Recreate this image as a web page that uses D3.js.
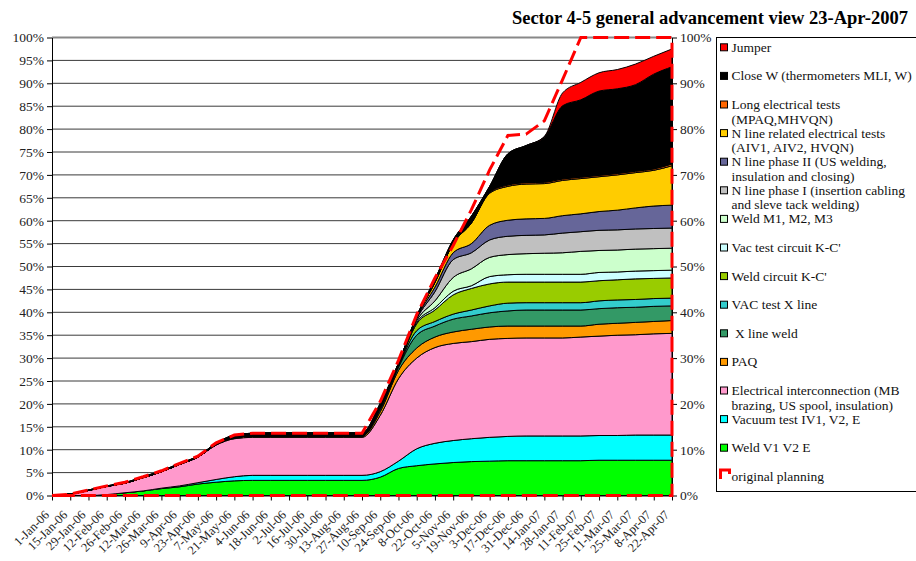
<!DOCTYPE html>
<html>
<head>
<meta charset="utf-8">
<script src="https://cdn.jsdelivr.net/npm/d3@7"></script>
<style>
body { margin: 0; background: #fff; }
text { font-family: "Liberation Serif", "Times New Roman", serif; }
</style>
</head>
<body>
<div class="chart"></div>
<script>
// x categories (every two weeks)
var dateLabels = ["1-Jan-06","15-Jan-06","29-Jan-06","12-Feb-06","26-Feb-06","12-Mar-06","26-Mar-06","9-Apr-06","23-Apr-06","7-May-06","21-May-06","4-Jun-06","18-Jun-06","2-Jul-06","16-Jul-06","30-Jul-06","13-Aug-06","27-Aug-06","10-Sep-06","24-Sep-06","8-Oct-06","22-Oct-06","5-Nov-06","19-Nov-06","3-Dec-06","17-Dec-06","31-Dec-06","14-Jan-07","28-Jan-07","11-Feb-07","25-Feb-07","11-Mar-07","25-Mar-07","8-Apr-07","22-Apr-07"];

// stacked series, % of total work (bottom to top)
var weldV1V2E         = [0,0,0,0.2,0.6,1.0,1.5,1.9,2.5,2.9,3.2,3.3,3.3,3.3,3.3,3.3,3.3,3.3,4.0,5.9,6.5,6.9,7.2,7.4,7.5,7.6,7.6,7.6,7.6,7.6,7.7,7.7,7.7,7.7,7.7];
var vacuumTest        = [0,0,0,0,0,0,0.1,0.2,0.3,0.6,0.9,1.1,1.1,1.1,1.1,1.1,1.1,1.1,1.2,1.6,3.7,4.5,4.8,5.0,5.2,5.3,5.4,5.4,5.4,5.4,5.4,5.4,5.5,5.5,5.5];
var elecInterconnect  = [0,0.3,1.1,1.8,2.1,2.9,3.6,4.7,5.6,7.5,8.3,8.3,8.3,8.3,8.3,8.3,8.3,8.3,12.3,18.0,19.8,20.9,21.2,21.2,21.4,21.4,21.4,21.4,21.4,21.6,21.7,21.9,21.9,22.1,22.2];
var paq               = [0,0,0,0,0,0,0,0,0,0.1,0.2,0.3,0.3,0.3,0.3,0.3,0.3,0.3,0.8,1.8,2.2,2.3,2.5,2.7,2.7,2.7,2.6,2.6,2.6,2.4,2.6,2.6,2.7,2.7,2.8];
var xLineWeld         = [0,0,0,0,0,0,0,0,0,0,0,0,0,0,0,0,0,0,0.5,0.7,2.8,2.4,2.8,2.9,3.1,3.3,3.5,3.5,3.5,3.5,3.4,3.4,3.3,3.3,3.2];
var vacTestXLine      = [0,0,0,0,0,0,0,0,0,0,0,0,0,0,0,0,0,0,0.2,0.2,1.0,1.0,1.1,1.3,1.5,1.7,1.6,1.6,1.6,1.6,1.7,1.7,1.7,1.7,1.7];
var weldCircuitKC     = [0,0,0,0,0,0,0,0,0,0,0,0,0,0,0,0,0,0,0.2,0.2,1.5,2.5,4.2,4.7,4.8,4.6,4.5,4.5,4.5,4.5,4.4,4.4,4.5,4.4,4.4];
var vacTestCircuitKC  = [0,0,0,0,0,0,0,0,0,0,0,0,0,0,0,0,0,0,0.1,0.1,0.3,0.5,0.8,0.6,1.6,1.6,1.7,1.7,1.7,1.7,1.8,1.7,1.7,1.7,1.7];
var weldM123          = [0,0,0,0,0,0,0,0,0,0,0,0,0,0,0,0,0,0,0.1,0.1,0.4,1.5,3.0,3.7,4.2,4.4,4.5,4.6,4.7,5.0,4.8,4.8,4.8,4.8,4.8];
var nLinePhase1       = [0,0,0,0,0,0,0,0,0,0,0,0,0,0,0,0,0,0,0.1,0.1,0.4,2.0,3.9,3.5,3.8,4.0,4.0,4.0,4.3,4.3,4.4,4.4,4.4,4.4,4.4];
var nLinePhase2       = [0,0,0,0,0,0,0,0,0,0,0,0,0,0,0,0,0,0,0.1,0.05,0.2,1.0,1.5,2.0,3.2,3.5,3.6,3.6,3.8,3.9,4.1,4.3,4.6,4.9,5.0];
var nLineElecTests    = [0,0,0,0,0,0,0,0,0,0,0,0,0,0,0,0,0,0,0.1,0.05,0.2,1.0,2.0,4.5,7.0,7.4,7.6,7.6,7.7,7.7,7.6,7.7,7.7,7.8,8.6];
var longElecTests     = [0,0,0,0,0,0,0,0,0,0,0,0,0,0,0,0,0,0,0,0,0,0,0,0,0.2,0.3,0.3,0.3,0.3,0.3,0.3,0.3,0.3,0.3,0.4];
var closeW            = [0,0,0.1,0.1,0.1,0.2,0.2,0.2,0.2,0.3,0.6,0.6,0.7,0.7,0.7,0.7,0.7,0.7,0.4,0.1,0.2,0.7,0.8,1.5,1.3,6.8,8.1,9.9,16.0,16.9,18.4,18.5,18.9,20.7,21.2];
var jumper            = [0,0,0,0,0,0,0,0,0,0,0,0,0,0,0,0,0,0,0,0,0,0,0,0,0,0,0,0.1,2.8,3.8,4.0,4.2,4.5,3.9,3.9];

// original planning (cumulative %)
var planning = [0,0.3,1.2,2.1,2.9,4.1,5.4,7.0,8.6,11.5,13.2,13.6,13.6,13.6,13.6,13.6,13.6,13.6,20.5,29.5,39.5,47.5,54.6,62.4,71.1,78.6,78.9,81.8,90.8,100,100,100,100,100,100];

var seriesNames = ["Weld V1 V2 E","Vacuum test IV1, V2, E","Electrical interconnection","PAQ","X line weld","VAC test X line","Weld circuit K-C'","Vac test circuit K-C'","Weld M1, M2, M3","N line phase I","N line phase II","N line related electrical tests","Long electrical tests","Close W","Jumper"];
var seriesColors = ["#00ff00","#00ffff","#ff99cc","#ff9900","#339966","#33cccc","#99cc00","#ccffff","#ccffcc","#c0c0c0","#666699","#ffcc00","#ff6600","#000000","#ff0000"];
var seriesValues = [weldV1V2E, vacuumTest, elecInterconnect, paq, xLineWeld, vacTestXLine, weldCircuitKC, vacTestCircuitKC, weldM123, nLinePhase1, nLinePhase2, nLineElecTests, longElecTests, closeW, jumper];

// legend, top to bottom
var legendLines = [
  ["Jumper"],
  ["Close W (thermometers MLI, W)"],
  ["Long electrical tests", "(MPAQ,MHVQN)"],
  ["N line related electrical tests", "(AIV1, AIV2, HVQN)"],
  ["N line phase II (US welding,", "insulation and closing)"],
  ["N line phase I (insertion cabling", "and sleve tack welding)"],
  ["Weld M1, M2, M3"],
  ["Vac test circuit K-C'"],
  ["Weld circuit K-C'"],
  ["VAC test X line"],
  ["\u00a0X line weld"],
  ["PAQ"],
  ["Electrical interconnection (MB", "brazing, US spool, insulation)"],
  ["Vacuum test IV1, V2, E"],
  ["Weld V1 V2 E"],
  ["original planning"]
];

var leftTicks = [0,5,10,15,20,25,30,35,40,45,50,55,60,65,70,75,80,85,90,95,100];
var rightTicks = [0,10,20,30,40,50,60,70,80,90,100];

var w = 916, h = 561;
var margin = {top: 37.5, right: 244, bottom: 65.5, left: 52};

var svg = d3.select(".chart")
            .append("svg")
            .attr("width", w)
            .attr("height", h);

var parseDate = d3.timeParse("%d-%b-%y");
var dates = dateLabels.map(parseDate);

var xScale = d3.scaleTime()
    .domain([dates[0], dates[dates.length - 1]])
    .range([margin.left, w - margin.right]);

var yScale = d3.scaleLinear()
    .domain([0, 100])
    .range([h - margin.bottom, margin.top]);

// gridlines
svg.append("g")
   .selectAll("line")
   .data(leftTicks.filter(d => d > 0))
   .enter()
   .append("line")
   .attr("x1", margin.left)
   .attr("x2", w - margin.right)
   .attr("y1", d => yScale(d))
   .attr("y2", d => yScale(d))
   .attr("stroke", d => d == 100 ? "#888" : "#3a3a3a")
   .attr("stroke-width", d => d == 100 ? 2 : 1);

// stacked areas
var table = dates.map(function(d, i) {
  var row = {date: d};
  seriesNames.forEach(function(k, j) { row[k] = seriesValues[j][i]; });
  return row;
});
var stacked = d3.stack().keys(seriesNames)(table);

var area = d3.area()
   .x(d => xScale(d.data.date))
   .y0(d => yScale(d[0]))
   .y1(d => yScale(d[1]))
   .curve(d3.curveMonotoneX);

svg.append("g")
   .selectAll("path")
   .data(stacked)
   .enter()
   .append("path")
   .attr("d", area)
   .attr("fill", (d, i) => seriesColors[i])
   .attr("stroke", "#000")
   .attr("stroke-width", 1)
   .attr("stroke-linejoin", "round");

// axes
var fmt = d3.timeFormat("%-d-%b-%y");
var xAxis = svg.append("g")
   .attr("transform", "translate(0," + (h - margin.bottom) + ")")
   .call(d3.axisBottom(xScale).tickValues(dates).tickFormat(fmt).tickSize(5).tickSizeOuter(0));
xAxis.selectAll("text")
   .attr("x", -16)
   .attr("y", 8)
   .attr("dy", "0.35em")
   .attr("transform", "rotate(-45)")
   .style("text-anchor", "end");

var yAxisL = svg.append("g")
   .attr("transform", "translate(" + margin.left + ",0)")
   .call(d3.axisLeft(yScale).tickValues(leftTicks).tickFormat(d => d + "%").tickSize(5).tickSizeOuter(0));

var yAxisR = svg.append("g")
   .attr("transform", "translate(" + (w - margin.right) + ",0)")
   .call(d3.axisRight(yScale).tickValues(rightTicks).tickFormat(d => d + "%").tickSize(5).tickSizeOuter(0));

svg.selectAll(".tick text")
   .attr("fill", "#222")
   .style("font-size", "13.5px")
   .style("font-family", "'Liberation Serif', serif");
xAxis.selectAll("text").style("font-size", "12.5px");
svg.selectAll(".domain, .tick line").attr("stroke", "#000");

// original planning: area outline in red dashes
var planPts = dates.map((d, i) => [xScale(d), yScale(planning[i])]);
planPts.push([xScale(dates[dates.length - 1]), yScale(0)]);
planPts.push([xScale(dates[0]), yScale(0)]);
svg.append("path")
   .attr("d", d3.line()(planPts))
   .attr("fill", "none")
   .attr("stroke", "#ff0000")
   .attr("stroke-width", 3)
   .attr("stroke-dasharray", "15,6");

// title
svg.append("text")
   .attr("x", 908)
   .attr("y", 24)
   .attr("text-anchor", "end")
   .style("font-size", "18.5px")
   .style("font-weight", "bold")
   .text("Sector 4-5 general advancement view 23-Apr-2007");

// legend
var lg = svg.append("g");
lg.append("rect")
  .attr("x", 716.5).attr("y", 37.5)
  .attr("width", 210).attr("height", 454)
  .attr("fill", "#fff").attr("stroke", "#000");

var legendColors = seriesColors.slice().reverse();
legendLines.forEach(function(lines, k) {
  var cy = 47.3 + k * 28.6;
  if (k < legendColors.length) {
    lg.append("rect")
      .attr("x", 720.5).attr("y", cy - 3.5)
      .attr("width", 7).attr("height", 7)
      .attr("fill", legendColors[k])
      .attr("stroke", "#000");
  } else {
    lg.append("path")
      .attr("d", "M720.5,479 V470 H729.5 V474")
      .attr("fill", "none")
      .attr("stroke", "#ff0000")
      .attr("stroke-width", 3);
  }
  lines.forEach(function(t, j) {
    lg.append("text")
      .attr("x", 731.5)
      .attr("y", cy + 4.5 + j * 14.5)
      .style("font-size", "13.5px")
      .attr("fill", "#111")
      .text(t);
  });
});
</script>
</body>
</html>
